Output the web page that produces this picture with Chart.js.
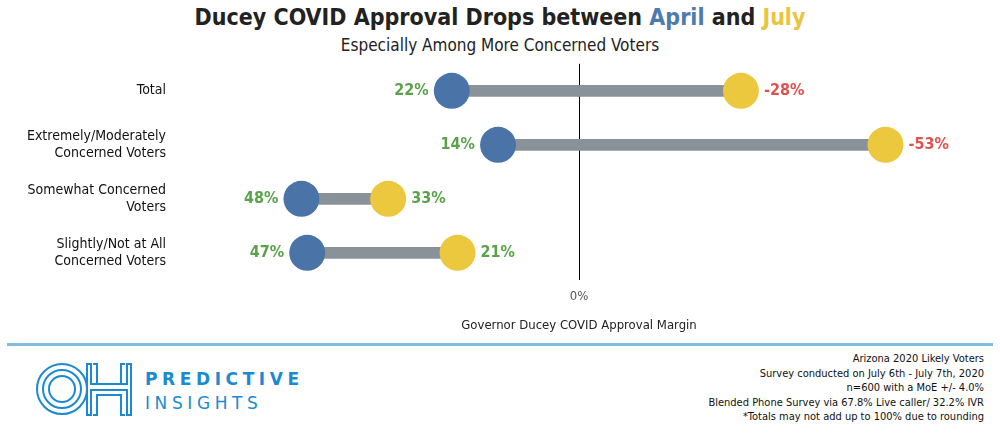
<!DOCTYPE html>
<html><head><meta charset="utf-8">
<script src="https://cdn.jsdelivr.net/npm/chart.js@4"></script>
<style>
body{margin:0;width:1000px;height:435px;background:#fff;font-family:"DejaVu Sans Condensed","DejaVu Sans",sans-serif;position:relative;overflow:hidden}
#t{position:absolute;top:4px;left:0;width:1000px;text-align:center;font:bold 23px "DejaVu Sans Condensed","DejaVu Sans";color:#222}
#s{position:absolute;top:35px;left:0;width:1000px;text-align:center;font:17px "DejaVu Sans Condensed","DejaVu Sans";color:#222}
#c{position:absolute;top:41px;left:0}
#hr{position:absolute;top:343px;left:7px;width:986px;height:3px;background:#7fbde3}
#note{position:absolute;top:352px;right:16px;text-align:right;font:11px/14.5px "DejaVu Sans Condensed","DejaVu Sans";color:#111}
#logo{position:absolute;top:362px;left:35px;width:270px;height:55px}
</style></head><body>
<div id="t">Ducey COVID Approval Drops between <span style="color:#4d7aaf">April</span> and <span style="color:#e8c440">July</span></div>
<div id="s">Especially Among More Concerned Voters</div>
<canvas id="c" width="1000" height="296"></canvas>
<div id="hr"></div>
<svg id="logo" viewBox="0 0 270 55">
<g fill="none" stroke="#1b8ad0" stroke-width="2">
<circle cx="27" cy="27" r="25"/><circle cx="27" cy="27" r="19"/><circle cx="27" cy="27" r="13"/>
<path d="M52 2h4v20h36v-20h4v51h-4v-25h-36v25h-4z"/>
<path d="M58 2h4v20h24v-20h4"/><path d="M58 53h4v-20h24v20h4"/>
</g>
<text x="110" y="23" font-family="DejaVu Sans" font-weight="bold" font-size="17" letter-spacing="4.6" fill="#1b8ad0">PREDICTIVE</text>
<text x="110" y="47" font-family="DejaVu Sans" font-size="17" letter-spacing="4.6" fill="#1b8ad0">INSIGHTS</text>
</svg>
<div id="note">Arizona 2020 Likely Voters<br>Survey conducted on July 6th - July 7th, 2020<br>n=600 with a MoE +/- 4.0%<br>Blended Phone Survey via 67.8% Live caller/ 32.2% IVR<br>*Totals may not add up to 100% due to rounding</div>
<script>
const categories = [["Total"], ["Extremely/Moderately", "Concerned Voters"], ["Somewhat Concerned", "Voters"], ["Slightly/Not at All", "Concerned Voters"]];
const keys = ["Total", "Extremely", "Somewhat", "Slightly"];
const april = [22, 14, 48, 47];
const july = [-28, -53, 33, 21];

const labelPlugin = {
  id: "dotLabels",
  afterDatasetsDraw(chart) {
    const ctx = chart.ctx, x = chart.scales.x, y = chart.scales.y;
    ctx.save();
    ctx.font = "bold 16px 'DejaVu Sans Condensed', sans-serif";
    ctx.textBaseline = "middle";
    keys.forEach((k, i) => {
      const yy = y.getPixelForValue(i);
      ctx.fillStyle = april[i] >= 0 ? "#5aa34a" : "#e0524f";
      ctx.textAlign = "right";
      ctx.fillText(april[i] + "%", x.getPixelForValue(april[i]) - 23, yy);
      ctx.fillStyle = july[i] >= 0 ? "#5aa34a" : "#e0524f";
      ctx.textAlign = "left";
      ctx.fillText(july[i] + "%", x.getPixelForValue(july[i]) + 23, yy);
    });
    ctx.restore();
  }
};

new Chart(document.getElementById("c"), {
  type: "bar",
  data: {
    labels: keys,
    datasets: [
      { type: "line", data: april.map((v, i) => ({ x: v, y: keys[i] })), showLine: false, pointRadius: 18, pointHoverRadius: 18, pointBackgroundColor: "#4a74a8", pointBorderWidth: 0, order: 0 },
      { type: "line", data: july.map((v, i) => ({ x: v, y: keys[i] })), showLine: false, pointRadius: 18, pointHoverRadius: 18, pointBackgroundColor: "#ecc83f", pointBorderWidth: 0, order: 0 },
      { data: april.map((v, i) => [v, july[i]]), backgroundColor: "#8a9299", barThickness: 11, order: 1 }
    ]
  },
  options: {
    indexAxis: "y",
    responsive: false,
    animation: false,
    layout: { padding: { top: 5, right: 22 } },
    plugins: { legend: { display: false }, tooltip: { enabled: false } },
    scales: {
      x: {
        reverse: true, min: -69, max: 69,
        ticks: { stepSize: 23, color: "#555", font: { size: 13, family: "DejaVu Sans Condensed" }, padding: 9,
          callback: v => v === 0 ? "0%" : null },
        grid: { drawTicks: false, color: c => c.tick && c.tick.value === 0 ? "#000" : "transparent" },
        border: { display: false },
        title: { display: true, text: "Governor Ducey COVID Approval Margin", color: "#222", font: { size: 13, family: "DejaVu Sans Condensed" }, padding: { top: 4 } }
      },
      y: {
        afterFit: s => { s.width = 180; },
        ticks: { color: "#111", font: { size: 14, family: "DejaVu Sans Condensed" }, padding: 6,
          callback: (v, i) => categories[i] },
        grid: { display: false },
        border: { display: false }
      }
    }
  },
  plugins: [labelPlugin]
});
</script>
</body></html>
